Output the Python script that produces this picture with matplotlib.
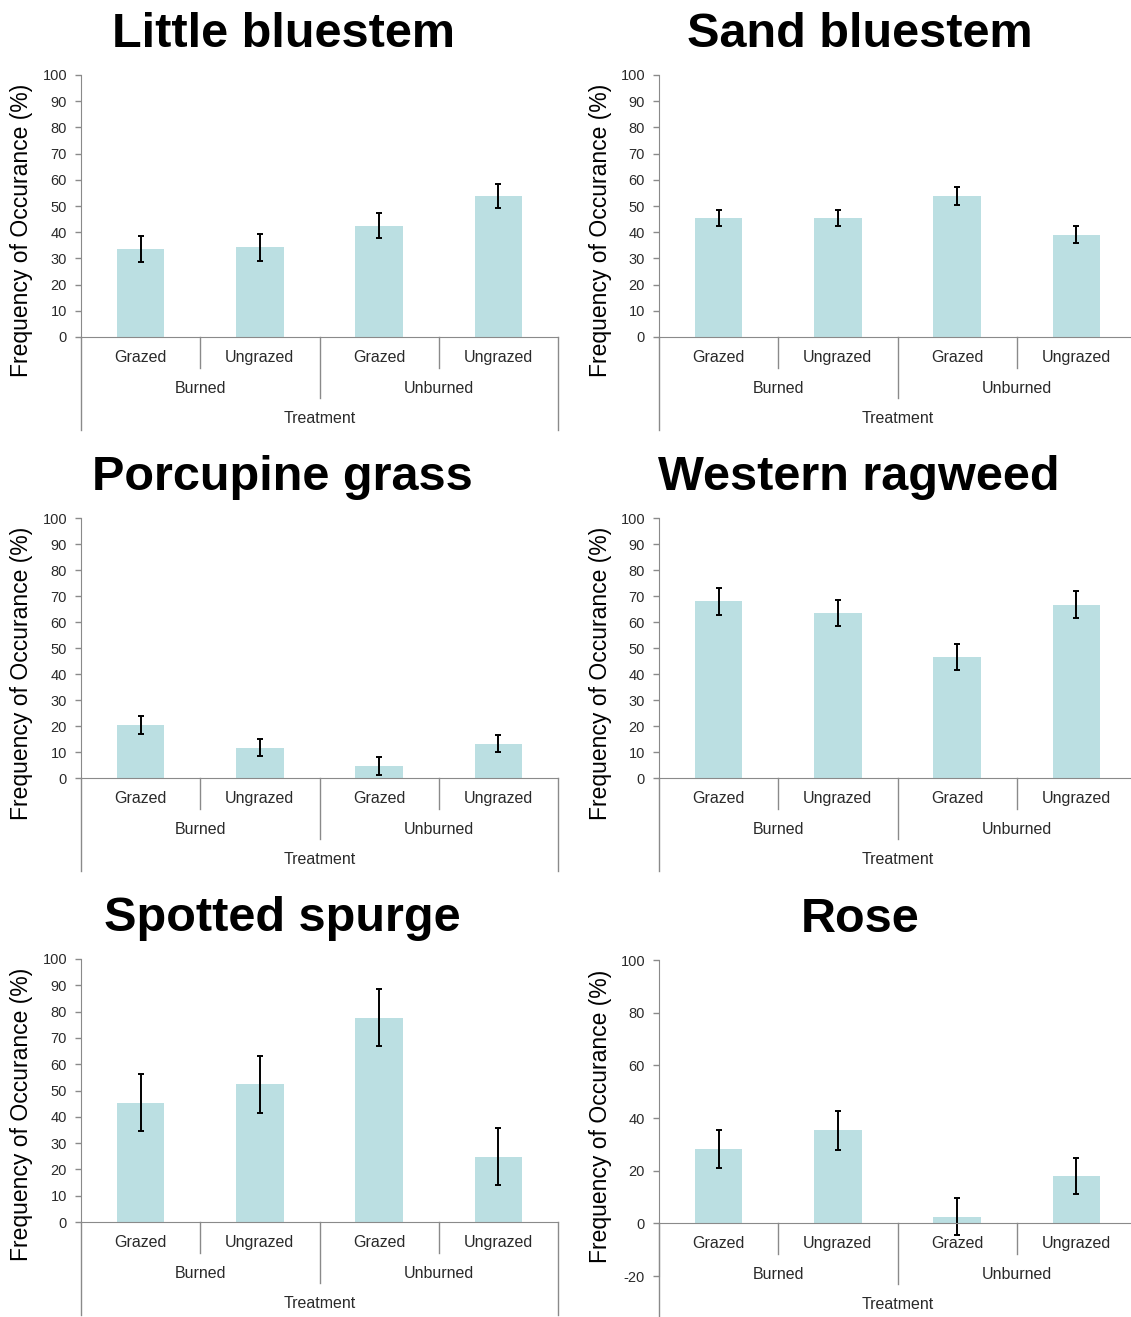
import matplotlib
matplotlib.use('Agg')
import matplotlib.pyplot as plt
import numpy as np

plt.rcParams['font.family'] = ['Liberation Sans', 'DejaVu Sans']
plt.rcParams['axes.unicode_minus'] = False

# categories
grazing = ['Grazed', 'Ungrazed', 'Grazed', 'Ungrazed']
burning = ['Burned', 'Unburned']
treatment = 'Treatment'

# frequency of occurance (%) and error
little_bluestem = [33.5, 34.2, 42.5, 53.8]
little_bluestem_err = [5.0, 5.1, 4.7, 4.6]
sand_bluestem = [45.3, 45.4, 53.8, 39.0]
sand_bluestem_err = [3.0, 3.0, 3.3, 3.3]
porcupine_grass = [20.3, 11.7, 4.6, 13.2]
porcupine_grass_err = [3.4, 3.3, 3.3, 3.3]
western_ragweed = [68.0, 63.6, 46.5, 66.7]
western_ragweed_err = [5.2, 5.0, 5.1, 5.1]
spotted_spurge = [45.4, 52.4, 77.7, 24.8]
spotted_spurge_err = [10.9, 10.9, 10.9, 10.9]
rose = [28.2, 35.4, 2.5, 18.0]
rose_err = [7.1, 7.4, 7.0, 7.0]

W, H = 1131, 1317
BAR = '#bbdfe2'
GREY = '#8a8a8a'
TXT = '#2a2a2a'

fig = plt.figure(figsize=(W / 100, H / 100), dpi=100)


def panel(title, vals, errs, x0, top, bottom, ylim, step, title_x, label_y):
    ax = fig.add_axes([x0 / W, (H - bottom) / H, 477 / W, (bottom - top) / H])
    x = np.arange(len(vals))
    ax.bar(x, vals, width=0.4, color=BAR)
    ax.errorbar(x, vals, yerr=errs, fmt='none', ecolor='black',
                elinewidth=1.4, capsize=2.5, capthick=1.4)
    ax.set_xlim(-0.5, 3.5)
    ax.set_ylim(*ylim)
    ax.set_yticks(np.arange(ylim[0], ylim[1] + 1, step))
    ax.tick_params(axis='y', direction='out', length=4, width=1, color=GREY,
                   labelsize=10.5, labelcolor=TXT, pad=6)
    ax.set_xticks([])
    for s in ['top', 'right']:
        ax.spines[s].set_visible(False)
    ax.spines['left'].set_color(GREY)
    ax.spines['bottom'].set_color(GREY)
    ax.spines['bottom'].set_position(('data', 0))

    # pixels -> data units below the zero line
    ppu = (bottom - top) / (ylim[1] - ylim[0])
    d = lambda p: -p / ppu

    kw = dict(color=GREY, lw=1, clip_on=False)
    for xs in [0.5, 2.5]:
        ax.plot([xs, xs], [0, d(31)], **kw)
    ax.plot([1.5, 1.5], [0, d(61)], **kw)
    for xs in [-0.5, 3.5]:
        ax.plot([xs, xs], [0, d(93)], **kw)

    tkw = dict(ha='center', va='center_baseline', fontsize=11.5, color=TXT)
    for i, g in enumerate(grazing):
        ax.text(i, d(19), g, **tkw)
    for i, b in enumerate(burning):
        ax.text(0.5 + 2 * i, d(50), b, **tkw)
    ax.text(1.5, d(80), treatment, **tkw)

    fig.text(title_x / W, (H - (top - 28)) / H, title, ha='center', va='baseline',
             fontsize=35, fontweight='bold')
    fig.text((x0 - 59) / W, (H - label_y) / H, 'Frequency of Occurance (%)',
             rotation=90, ha='center', va='center', fontsize=16.5, color='black')
    return ax


panel('Little bluestem', little_bluestem, little_bluestem_err, 81, 75, 337, (0, 100), 10, 283, 230)
panel('Sand bluestem', sand_bluestem, sand_bluestem_err, 659, 75, 337, (0, 100), 10, 860, 230)
panel('Porcupine grass', porcupine_grass, porcupine_grass_err, 81, 518, 778, (0, 100), 10, 282, 673)
panel('Western ragweed', western_ragweed, western_ragweed_err, 659, 518, 778, (0, 100), 10, 859, 673)
panel('Spotted spurge', spotted_spurge, spotted_spurge_err, 81, 959, 1222, (0, 100), 10, 282, 1114)
panel('Rose', rose, rose_err, 659, 960, 1276, (-20, 100), 20, 860, 1116)

fig.savefig('out.png', dpi=100)
